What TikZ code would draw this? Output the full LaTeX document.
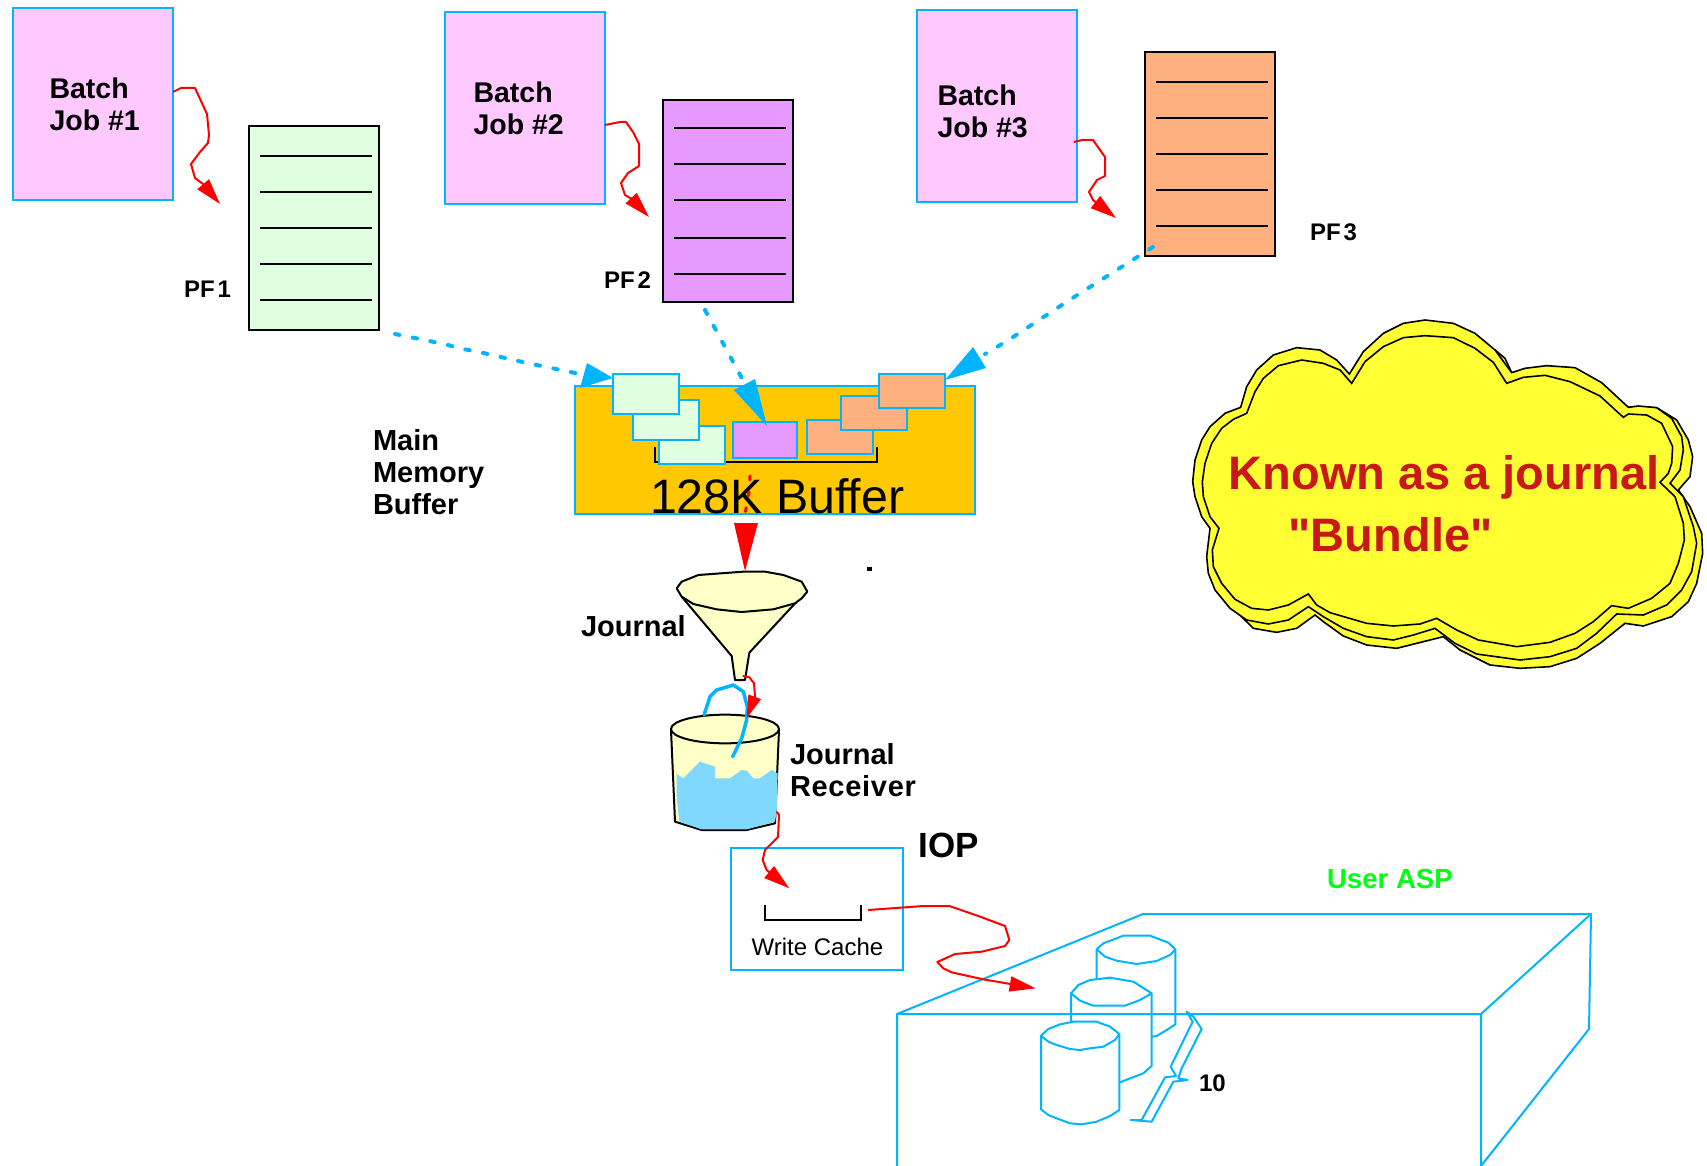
\documentclass[tikz,border=0pt]{standalone}
\usepackage{fontspec}
\setmainfont{Liberation Sans}
\newfontfamily\plainfont{Liberation Sans}
\usetikzlibrary{arrows.meta}
\definecolor{cblue}{HTML}{00B4FF}
\definecolor{cpink}{HTML}{FFC8FF}
\definecolor{cgreen}{HTML}{E0FFE0}
\definecolor{cpurple}{HTML}{E699FF}
\definecolor{corange}{HTML}{FFB07F}
\definecolor{cbuf}{HTML}{FFC800}
\definecolor{ccream}{HTML}{FFFFC8}
\definecolor{cwater}{HTML}{80D8FF}
\definecolor{ccloud}{HTML}{FFFF33}
\definecolor{ctext}{HTML}{C81818}
\definecolor{cuser}{HTML}{00FF11}
\newcommand\lblsize[2]{\fontsize{#1}{#2}\selectfont}
\tikzset{
  lbl/.style={anchor=base west,inner sep=0pt,outer sep=0pt,align=left,text=black},
  bb/.style={lbl,font=\bfseries\lblsize{28.5}{32}},
  pflbl/.style={lbl,font=\bfseries\lblsize{24}{24}},
  boxbase/.style={rectangle,draw,inner sep=0pt,outer sep=0pt},
  jobbox/.style={boxbase,draw=cblue,line width=2pt,fill=cpink,minimum width=160pt,minimum height=192pt},
  pfbox/.style={boxbase,draw=black,line width=2pt,minimum width=130pt,minimum height=204pt},
  smallbox/.style={boxbase,draw=cblue,line width=2pt,minimum width=66pt,minimum height=39pt},
  rulel/.style={black,line width=1.7pt},
  redflow/.style={red,line width=2pt,line join=round,-{Triangle[length=26pt,width=15pt]}},
  blueflow/.style={cblue,line width=4pt,line cap=round,dash pattern=on 4.5pt off 13.5pt},
  bluetip/.style={fill=cblue,draw=none},
  skyline/.style={cblue,line width=2pt,line join=round},
  cloudl/.style={draw=black,line width=1.6pt,fill=ccloud,line join=miter},
  zoomA/.style={shift={(640,550)},x=.33333pt,y=-.33333pt},
  zoomB/.style={shift={(720,830)},x=.33333pt,y=-.33333pt},
  zoomC/.style={shift={(1180,300)},x=.33333pt,y=-.33333pt},
}
\begin{document}
\begin{tikzpicture}[x=1pt,y=-1pt]
\useasboundingbox (0,0) rectangle (1707,1166);
% jobs
\node[jobbox] (job1) at (93,104) {};
\node[jobbox] (job2) at (525,108) {};
\node[jobbox] (job3) at (997,106) {};
\node[bb] (job1t) at (49.5,131) {Batch\\Job \#1};
\node[bb] (job2t) at (473.5,134.5) {Batch\\Job \#2};
\node[bb] (job3t) at (937.5,138) {Batch\\Job \#3};
% physical files
\node[pfbox,fill=cgreen] (pf1) at (314,228) {};
\node[pfbox,fill=cpurple,minimum height=202pt] (pf2) at (728,201) {};
\node[pfbox,fill=corange] (pf3) at (1210,154) {};
\foreach \y in {156,192,228,264,300} \draw[rulel] (260,\y) -- (372,\y);
\foreach \y in {128,164,200,238,274} \draw[rulel] (674,\y) -- (786,\y);
\foreach \y in {82,118,154,190,226} \draw[rulel] (1156,\y) -- (1268,\y);
\node[pflbl] (pf1t) at (184,297.5) {PF\hspace{3pt}1};
\node[pflbl] (pf2t) at (604,288) {PF\hspace{3pt}2};
\node[pflbl] (pf3t) at (1310,240.5) {PF\hspace{3pt}3};
% red job arrows
\draw[redflow] ([yshift=-84pt]job1.north east) -- (181,88) -- (195,88) -- (207,114) -- (209,135) -- (208,143) -- (200,152) -- (191,164) -- (195,178) -- (203,184) -- ([xshift=-29pt,yshift=-78pt]pf1.north west);
\draw[redflow] ([yshift=-113pt]job2.north east) -- (620,122) -- (626,122) -- (633,132) -- (639,144) -- (639,166) -- (628,173) -- (621,183) -- (625,195) -- (632,199) -- ([xshift=-14pt,yshift=-117pt]pf2.north west);
\draw[redflow] ([xshift=-3pt,yshift=-132pt]job3.north east) -- (1082,140) -- (1093,140) -- (1105,157) -- (1105,176) -- (1097,180) -- (1089,192) -- (1093,200) -- (1098,204) -- ([xshift=-29pt,yshift=-166pt]pf3.north west);
% buffer
\node[boxbase,draw=cblue,line width=2pt,fill=cbuf,minimum width=400pt,minimum height=128pt] (buf) at (775,450) {};
\draw[black,line width=2pt] (655,447) -- (655,462) -- (877,462) -- (877,447);
\node[smallbox,fill=cgreen,minimum height=38pt] (g3) at (692,445) {};
\node[smallbox,fill=cgreen,minimum height=40pt] (g2) at (666,420) {};
\node[smallbox,fill=cgreen,minimum height=40pt] (g1) at (646,394) {};
\node[smallbox,fill=cpurple,minimum width=64pt,minimum height=36pt] (p1) at (765,440) {};
\node[smallbox,fill=corange,minimum height=34pt] (o3) at (840,437) {};
\node[smallbox,fill=corange,minimum height=34pt] (o2) at (874,413) {};
\node[smallbox,fill=corange,minimum height=34pt] (o1) at (912,391) {};
\node[lbl,font=\lblsize{48.3}{48.3}] (buft) at (650,513) {128K Buffer};
\node[lbl,font=\bfseries\lblsize{29}{32}] (mmb) at (373,514.5) {Main\\Memory\\Buffer};
% blue dashed arrows
\draw[blueflow] ([xshift=16pt,yshift=-4pt]pf1.south east) -- (444,344) -- (463,349) -- (479,352) -- (527,363) -- (585,375);
\draw[bluetip] (587,363) -- ([yshift=16pt]g1.west) -- (580,388) -- cycle;
\draw[blueflow] ([xshift=-23pt,yshift=-8pt]pf2.south) -- (745,384);
\draw[bluetip] (734,390) -- ([yshift=-4pt,xshift=2pt]p1.north) -- (755,379) -- cycle;
\draw[blueflow] ([xshift=8pt,yshift=9pt]pf3.south west) -- (1071,299) -- (1007,341) -- (985,354);
\draw[bluetip] (973,347) -- ([yshift=-6pt]o1.north east) -- (986,368) -- cycle;
% funnel
\begin{scope}[zoomA]
\node[lbl,font=\bfseries\lblsize{29}{29}] (jrn) at (-177,258) {Journal};
\path[fill=ccream,draw=black,line width=2pt,line join=round] (125,140) -- (275,318) -- (285,390) -- (315,390) -- (328,308) -- (470,155) -- cycle;
\coordinate (funbot) at (308,378);
\path[fill=ccream,draw=black,line width=2pt,line join=round] (110,115) -- (125,95) -- (175,75) -- (310,65) -- (375,65) -- (430,75) -- (485,95) -- (502,125) -- (485,145) -- (465,160) -- (400,178) -- (305,186) -- (230,178) -- (160,162) -- (125,140) -- cycle;
% bucket
\path[fill=ccream,draw=black,line width=2pt,line join=round] (93,540) -- (105,815) -- (185,840) -- (320,840) -- (405,820) -- (417,540) -- cycle;
\path[fill=cwater] (110,672) -- (130,685) -- (180,635) -- (225,650) -- (225,685) -- (270,685) -- (305,660) -- (320,662) -- (340,685) -- (360,685) -- (395,660) -- (413,670) -- (410,785) -- (405,815) -- (320,838) -- (185,838) -- (118,815) -- (110,740) -- cycle;
\path[fill=ccream,draw=black,line width=2pt] (255,537) ellipse [x radius=162,y radius=43];
\draw[cblue,line width=3.5pt,line cap=round,line join=round] (192,495) -- (210,440) -- (230,420) -- (280,405) -- (310,425) -- (322,470) -- (320,510) -- (305,565) -- (278,620);
\draw[redflow,-{Triangle[length=23pt,width=13pt]}] (funbot) -- (328,382) -- (342,400) -- (345,438) -- (320,505);
\coordinate (bucketbot) at (410,785);
\fill[black] (680,52) rectangle (695,62);
\node[lbl,font=\bfseries\lblsize{29}{32}] (jrcv) at (450,740) {Journal\\\addfontfeature{LetterSpace=2.5}Receiver};
\end{scope}
% red dashed into funnel
\draw[red,line width=3pt,line cap=round,dash pattern=on 4pt off 12pt] (750,476) -- (749,492) -- (745,514);
\fill[red] (734,523) -- (758,523) -- (745,571) -- cycle;
% IOP
\begin{scope}[zoomB]
\node[boxbase,draw=cblue,line width=1.8pt,minimum width=172pt,minimum height=122pt,anchor=north west] (iop) at (33,54) {};
\node[lbl,font=\lblsize{24}{24}] (wc) at (95,376) {Write Cache};
\node[lbl,font=\bfseries\lblsize{35}{35}] (iopt) at (595,82) {IOP};
\draw[black,line width=1.7pt] (134,226) -- (134,270) -- (424,270) -- (424,226);
\draw[redflow] (bucketbot) -- (177,-45) -- (174,21) -- (135,60) -- (128,90) -- (140,120) -- (208,175);
\node[lbl,font=\bfseries\lblsize{27.6}{27.6},text=cuser] (uasp) at (1821,174) {User ASP};
\end{scope}
\coordinate (flb) at (897,1166);
\coordinate (frb) at (1481,1166);
\draw[skyline] (flb) -- (897,1014) -- (1143,914) -- (1591,914) -- (1589,1029) -- (frb) -- (1481,1014) -- (897,1014);
\draw[skyline] (1481,1014) -- (1591,914);
\begin{scope}[zoomB]
% disks
\draw[skyline] (1130,447) -- (1130,358) -- (1150,340) -- (1210,317) -- (1290,317) -- (1345,338) -- (1366,358) -- (1366,583) -- (1340,600) -- (1310,618) -- (1295,620);
\draw[skyline] (1130,358) -- (1155,380) -- (1190,392) -- (1250,402) -- (1310,393) -- (1350,375) -- (1366,358);
\draw[skyline] (1053,575) -- (1053,490) -- (1075,465) -- (1110,450) -- (1170,443) -- (1240,455) -- (1295,490) -- (1295,708) -- (1270,730) -- (1225,747) -- (1200,757);
\draw[skyline] (1053,490) -- (1080,512) -- (1120,527) -- (1215,527) -- (1260,510) -- (1295,490);
\draw[skyline] (963,617) -- (985,597) -- (1020,583) -- (1060,575) -- (1130,575) -- (1170,590) -- (1198,612) -- (1198,840) -- (1170,858) -- (1130,875) -- (1085,883) -- (1050,880) -- (1010,865) -- (985,855) -- (963,838) -- cycle;
\draw[skyline] (963,617) -- (985,635) -- (1010,645) -- (1050,657) -- (1080,660) -- (1110,655) -- (1150,650) -- (1185,630) -- (1198,612);
\draw[skyline] (1400,545) -- (1420,560) -- (1445,597) -- (1385,715) -- (1375,745) -- (1403,750) -- (1360,755) -- (1295,875) -- (1232,870) -- (1265,870) -- (1335,742) -- (1368,738) -- (1352,710) -- (1418,575) -- cycle;
\node[lbl,font=\bfseries\lblsize{24}{24}] (ten) at (1437,785) {10};
\coordinate (disktip) at (947,475);
\draw[redflow] ([xshift=-35pt,yshift=60pt]iop.south east) -- (610,228) -- (688,228) -- (775,258) -- (855,288) -- (868,330) -- (855,348) -- (785,365) -- (705,372) -- (652,396) -- (670,415) -- (695,427) -- (790,448) -- (disktip);
\end{scope}
% cloud
\begin{scope}[zoomC]
\path[cloudl] (945,150) -- (975,175) -- (995,218) -- (1345,322) -- (1430,323) -- (1490,360) -- (1525,420) -- (1538,470) -- (1530,530) -- (1495,570) -- (1530,620) -- (1565,700) -- (1568,760) -- (1550,850) -- (1525,905) -- (1475,950) -- (1390,978) -- (1335,970) -- (1260,1030) -- (1190,1075) -- (1110,1100) -- (1020,1105) -- (930,1095) -- (840,1050) -- (790,1010) -- (650,1045) -- (560,1035) -- (490,1008) -- (430,965) -- (405,945) -- (350,985) -- (290,997) -- (220,985) -- (172,938) -- cycle;
\path[cloudl] (508,222) -- (550,155) -- (610,100) -- (670,70) -- (735,60) -- (820,70) -- (885,100) -- (945,150) -- (995,218) -- (1035,205) -- (1100,197) -- (1185,203) -- (1265,248) -- (1345,322) -- (1375,318) -- (1430,323) -- (1475,355) -- (1505,410) -- (1510,450) -- (1500,510) -- (1470,550) -- (1510,590) -- (1540,680) -- (1550,730) -- (1535,815) -- (1505,870) -- (1460,915) -- (1390,945) -- (1310,942) -- (1250,1000) -- (1190,1045) -- (1110,1070) -- (1020,1080) -- (890,1062) -- (825,1030) -- (765,985) -- (700,1005) -- (640,1020) -- (560,1010) -- (490,985) -- (430,950) -- (385,920) -- (325,960) -- (265,972) -- (200,960) -- (150,925) -- (105,870) -- (85,820) -- (80,770) -- (90,685) -- (65,650) -- (45,590) -- (38,545) -- (45,480) -- (65,420) -- (90,380) -- (135,340) -- (182,322) -- (200,260) -- (230,210) -- (280,165) -- (350,143) -- (420,150) -- (470,180) -- cycle;
\path[cloudl] (515,250) -- (555,185) -- (610,140) -- (670,113) -- (735,107) -- (820,113) -- (885,145) -- (940,187) -- (980,250) -- (1030,232) -- (1095,226) -- (1170,245) -- (1260,288) -- (1330,352) -- (1345,342) -- (1400,345) -- (1445,370) -- (1478,440) -- (1475,490) -- (1465,520) -- (1440,547) -- (1485,590) -- (1510,670) -- (1513,720) -- (1495,790) -- (1470,850) -- (1415,895) -- (1345,925) -- (1295,917) -- (1240,965) -- (1185,1000) -- (1110,1027) -- (1010,1040) -- (895,1020) -- (830,990) -- (770,955) -- (720,972) -- (640,978) -- (560,970) -- (450,938) -- (410,915) -- (385,882) -- (325,915) -- (265,930) -- (215,925) -- (165,898) -- (125,850) -- (100,800) -- (97,750) -- (117,685) -- (90,650) -- (70,590) -- (67,545) -- (75,490) -- (95,430) -- (125,385) -- (160,358) -- (200,340) -- (225,275) -- (250,235) -- (295,197) -- (365,180) -- (430,190) -- (480,210) -- cycle;
\node[lbl,font=\plainfont\bfseries\lblsize{47}{62},text=ctext] (cloudt) at (146,755) {Known as a journal\\\hspace{60pt}"Bundle"};
\end{scope}
\end{tikzpicture}
\end{document}
